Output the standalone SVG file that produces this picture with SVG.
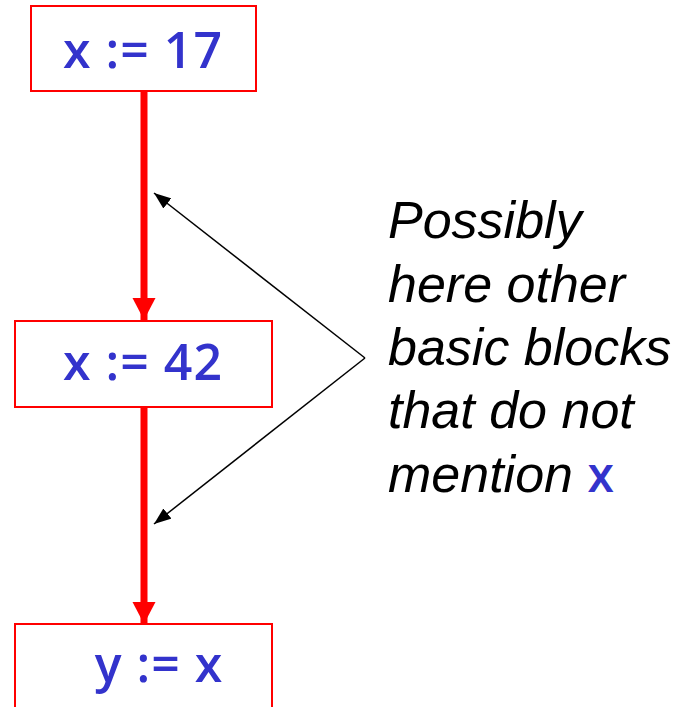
<svg xmlns="http://www.w3.org/2000/svg" width="692" height="707" viewBox="0 0 692 707">
<style>
.box{fill:#fff;stroke:#ff0000;stroke-width:2}
.code{font-family:"Open Sans","DejaVu Sans",sans-serif;font-size:50px;font-weight:600;fill:#3333cc;letter-spacing:1px}
.note{font-family:"Liberation Sans",Arial,sans-serif;font-style:italic;font-size:52px;fill:#000}
.flow{stroke:#ff0000;stroke-width:7;fill:none}
.ptr{stroke:#000;stroke-width:1.5;fill:none}
</style>
<defs>
<marker id="redhead" markerUnits="userSpaceOnUse" markerWidth="24" markerHeight="24" refX="22" refY="11.5" orient="auto" viewBox="0 0 24 23">
<path d="M0,0 L22,11.5 L0,23 Z" fill="#ff0000"/>
</marker>
<marker id="blackhead" markerUnits="userSpaceOnUse" markerWidth="18" markerHeight="14" refX="17" refY="6.5" orient="auto" viewBox="0 0 18 13">
<path d="M0,0 L17,6.5 L0,13 Z" fill="#000"/>
</marker>
</defs>
<g id="connectors">
<line class="flow" x1="144" y1="91" x2="144" y2="320" marker-end="url(#redhead)"/>
<line class="flow" x1="144" y1="407" x2="144" y2="624" marker-end="url(#redhead)"/>
<line class="ptr" x1="365" y1="358" x2="154" y2="193" marker-end="url(#blackhead)"/>
<line class="ptr" x1="365" y1="358" x2="154" y2="524" marker-end="url(#blackhead)"/>
</g>
<g id="n1">
<rect class="box" x="31" y="6" width="225" height="85"/>
<text class="code" x="143" y="68" text-anchor="middle">x := 17</text>
</g>
<g id="n2">
<rect class="box" x="15" y="321" width="257" height="86"/>
<text class="code" x="143" y="380" text-anchor="middle">x := 42</text>
</g>
<g id="n3">
<rect class="box" x="15" y="624" width="257" height="100"/>
<text class="code" x="159" y="682" text-anchor="middle">y := x</text>
</g>
<g id="note">
<text class="note" x="388" y="238">Possibly</text>
<text class="note" x="388" y="302">here other</text>
<text class="note" x="388" y="365">basic blocks</text>
<text class="note" x="388" y="428">that do not</text>
<text class="note" x="388" y="492">mention <tspan style="font-family:'Open Sans',sans-serif;font-style:normal;font-weight:600;font-size:48px;fill:#3333cc">x</tspan></text>
</g>
</svg>
